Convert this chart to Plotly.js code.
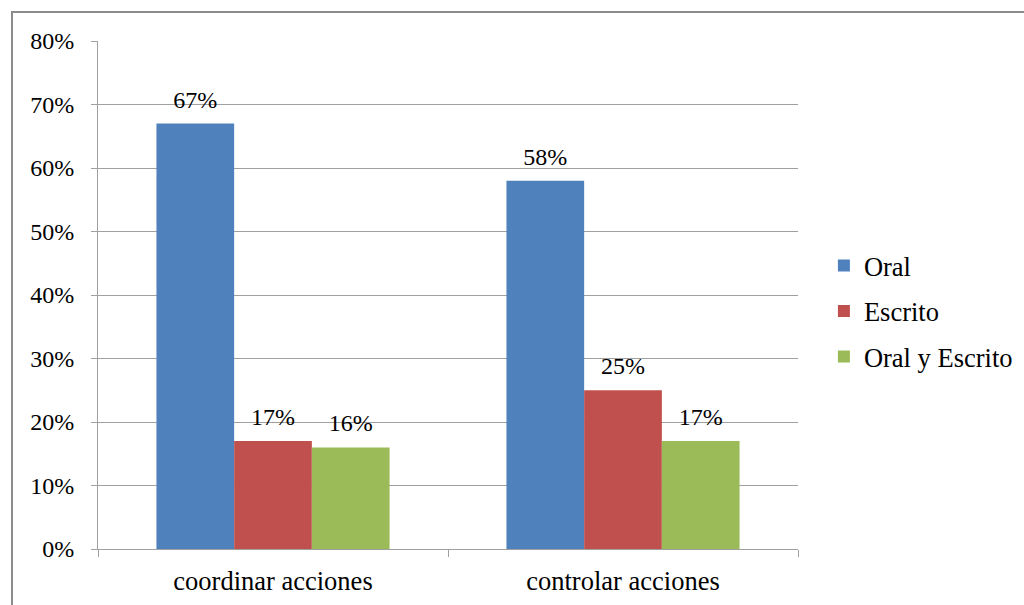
<!DOCTYPE html>
<html>
<head>
<meta charset="utf-8">
<script src="https://cdn.plot.ly/plotly-3.0.1.min.js"></script>
<style>
  html, body { margin: 0; padding: 0; background: #ffffff; }
  #wrap { position: relative; width: 1024px; height: 605px; overflow: hidden; }
  #chart { position: absolute; left: 0; top: 0; width: 1024px; height: 605px; }
  #frame {
    position: absolute; left: 11px; top: 11px; width: 1100px; height: 700px;
    border-left: 2px solid #8c8c8c; border-top: 2px solid #8c8c8c;
    pointer-events: none;
  }
</style>
</head>
<body>
<div id="wrap">
  <div id="chart"></div>
  <div id="frame"></div>
</div>
<script>
// Categories and series shares
const categories = ['coordinar acciones', 'controlar acciones'];
const oral = [0.67, 0.58];
const escrito = [0.17, 0.25];
const oralYEscrito = [0.16, 0.17];
const seriesNames = ['Oral', 'Escrito', 'Oral y Escrito'];
const seriesColors = ['#4f81bd', '#c0504d', '#9bbb59'];

const FONT = 'Liberation Serif';

const traces = [oral, escrito, oralYEscrito].map((vals, i) => ({
  type: 'bar',
  name: seriesNames[i],
  legendgroup: 'g' + i,
  x: categories,
  y: vals,
  marker: { color: seriesColors[i], line: { width: 0 } },
  text: vals.map(v => Math.round(v * 100) + '%'),
  textposition: 'outside',
  cliponaxis: false,
  textfont: { family: FONT, size: 24, color: '#000000' },
  hoverinfo: 'skip'
}));

const layout = {
  width: 1024,
  height: 605,
  margin: { l: 98, r: 226, t: 41, b: 56, autoexpand: false },
  paper_bgcolor: '#ffffff',
  plot_bgcolor: '#ffffff',
  font: { family: FONT, size: 24, color: '#000000' },
  barmode: 'group',
  bargap: 0.334,
  bargroupgap: 0,
  showlegend: true,
  legend: {
    x: 1.037, xanchor: 'left',
    y: 0.468, yanchor: 'middle',
    font: { family: FONT, size: 26.5, color: '#000000' },
    tracegroupgap: 8,
    bgcolor: 'rgba(0,0,0,0)'
  },
  xaxis: {
    type: 'category',
    showline: true, linecolor: '#a0a0a0', linewidth: 1,
    ticks: 'outside', tickson: 'boundaries', ticklen: 7, tickcolor: '#a0a0a0',
    ticklabelstandoff: 8,
    showgrid: false,
    tickfont: { family: FONT, size: 26.5, color: '#000000' }
  },
  yaxis: {
    range: [0, 0.8],
    dtick: 0.1,
    tickformat: '.0%',
    showline: true, linecolor: '#a0a0a0', linewidth: 1,
    ticks: 'outside', ticklen: 6, tickcolor: '#a0a0a0',
    ticklabelstandoff: 12,
    showgrid: true, gridcolor: '#a0a0a0', gridwidth: 1,
    zeroline: false,
    tickfont: { family: FONT, size: 24, color: '#000000' }
  }
};

Plotly.newPlot('chart', traces, layout, { staticPlot: true, displayModeBar: false })
  .then(gd => {
    // lift the value labels a little further above their bars
    gd.querySelectorAll('text.bartext').forEach(t => {
      const tr = t.getAttribute('transform') || '';
      t.setAttribute('transform', 'translate(0,-8) ' + tr);
    });
  });
</script>
</body>
</html>
